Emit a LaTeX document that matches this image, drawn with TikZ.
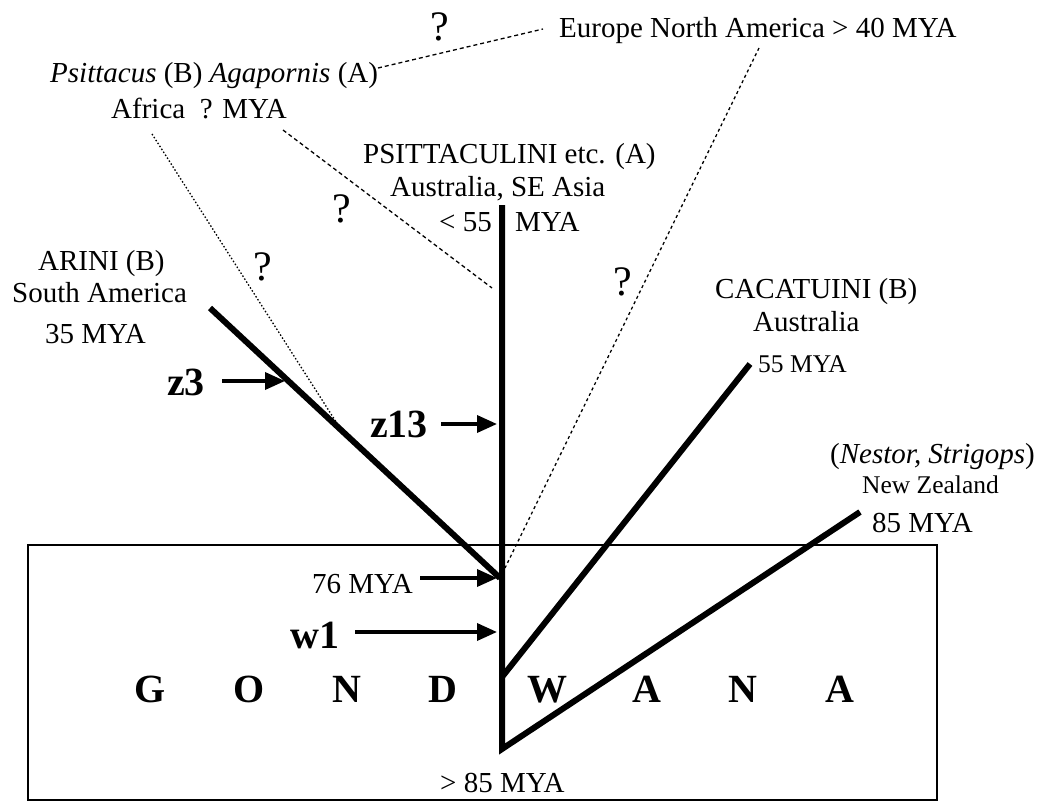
\documentclass[tikz,border=0pt]{standalone}
\usepackage{fontspec}
\setmainfont{Liberation Serif}
\usetikzlibrary{arrows.meta}
\begin{document}
\begin{tikzpicture}[x=1pt,y=-1pt,
  lbl/.style={inner sep=0pt, anchor=base west, font=\fontsize{29}{31}\selectfont},
  sml/.style={inner sep=0pt, anchor=base west, font=\fontsize{25.5}{28}\selectfont},
  big/.style={inner sep=0pt, anchor=base west, font=\fontsize{40}{44}\selectfont\bfseries},
  qm/.style={inner sep=0pt, anchor=base, font=\fontsize{42}{44}\selectfont},
  letter/.style={inner sep=0pt, anchor=base, font=\fontsize{40}{44}\selectfont\bfseries},
  branch/.style={line width=6pt, line join=miter},
  ptr/.style={line width=3.5pt, -{Triangle[length=20pt,width=17pt]}},
  dashln/.style={line width=1.3pt, dash pattern=on 4pt off 3pt},
  dotln/.style={line width=1.3pt, dash pattern=on 1.5pt off 2pt},
  frame/.style={line width=2.5pt}]
\useasboundingbox (0,0) rectangle (1039,803);

% ---- labels ----
\node[qm] (q1) at (440,40) {?};
\node[qm] (q2) at (342,222) {?};
\node[qm] (q3) at (263,280) {?};
\node[qm] (q4) at (623,295) {?};

\node[lbl] (eur) at (559,37) {Europe North America > 40 MYA};
\node[lbl] (psit) at (50,82) {\textit{Psittacus} (B) \textit{Agapornis} (A)};
\node[lbl] (afr) at (111,118) {Africa \ ? MYA};

\node[lbl] (psl) at (363,163) {PSITTACULINI etc. (A)};
\node[lbl] (psa) at (390,196) {Australia, SE Asia};
\node[lbl, anchor=base east] (psm1) at (492,231) {< 55};
\node[lbl] (psm2) at (515,231) {MYA};

\node[lbl] (ari) at (38,270) {ARINI (B)};
\node[lbl] (ars) at (12,302) {South America};
\node[lbl] (arm) at (45,343) {35 MYA};

\node[lbl] (cac) at (715,298) {CACATUINI (B)};
\node[lbl] (caa) at (753,331) {Australia};
\node[sml] (cam) at (758,372) {55 MYA};

\node[lbl] (nes) at (830,463) {(\textit{Nestor, Strigops})};
\node[sml] (nnz) at (862,493) {New Zealand};
\node[lbl] (nzm) at (872,532) {85 MYA};

\node[big] (z3) at (167,395) {z3};
\node[big] (z13) at (370,437) {z13};
\node[lbl] (m76) at (312,593) {76 MYA};
\node[big] (w1) at (290,648) {w1};
\node[lbl] (m85) at (440,792) {> 85 MYA};

\foreach \ch/\xx [count=\i] in {G/150,O/249,N/347,D/443,W/547,A/647,N/743,A/840}
  \node[letter] (g\i) at (\xx,702) {\ch};

% ---- Gondwana frame ----
\draw[frame] (28,545) rectangle (937,800);

% ---- key points ----
\coordinate (top) at (502,205);
\coordinate (bot) at (502,749);
\coordinate (nz) at (860,512);
\coordinate (cj) at (502,677);
\coordinate (ca) at (750,364);
\coordinate (ar) at (210,308);
\coordinate (aj) at (500,578);

% dashed / dotted hypothetical links
\coordinate (p1) at (378,68);
\coordinate (e1) at (543,29);
\coordinate (a1) at (152,134);
\coordinate (a1e) at (340,428);
\coordinate (a2) at (283,130);
\coordinate (a2e) at (492,288);
\coordinate (e2) at (759,48);
\coordinate (e2e) at (505,568);
\draw[dashln] (p1) -- (e1);
\draw[dotln] (a1) -- (a1e);
\draw[dashln] (a2) -- (a2e);
\draw[dashln, dash pattern=on 3pt off 3pt] (e2) -- (e2e);

% ---- branches ----
\draw[branch] (top) -- (bot) -- (nz);
\draw[branch] (cj) -- (ca);
\draw[branch] (ar) -- (aj);

% ---- pointer arrows ----
\coordinate (z3s) at (222,381);
\coordinate (z3e) at (285,381);
\coordinate (z13s) at (441,424);
\coordinate (z13e) at (497,424);
\coordinate (m76s) at (420,578);
\coordinate (m76e) at (497,578);
\coordinate (w1s) at (355,632);
\coordinate (w1e) at (497,632);
\draw[ptr] (z3s) -- (z3e);
\draw[ptr] (z13s) -- (z13e);
\draw[ptr] (m76s) -- (m76e);
\draw[ptr] (w1s) -- (w1e);
\end{tikzpicture}
\end{document}
